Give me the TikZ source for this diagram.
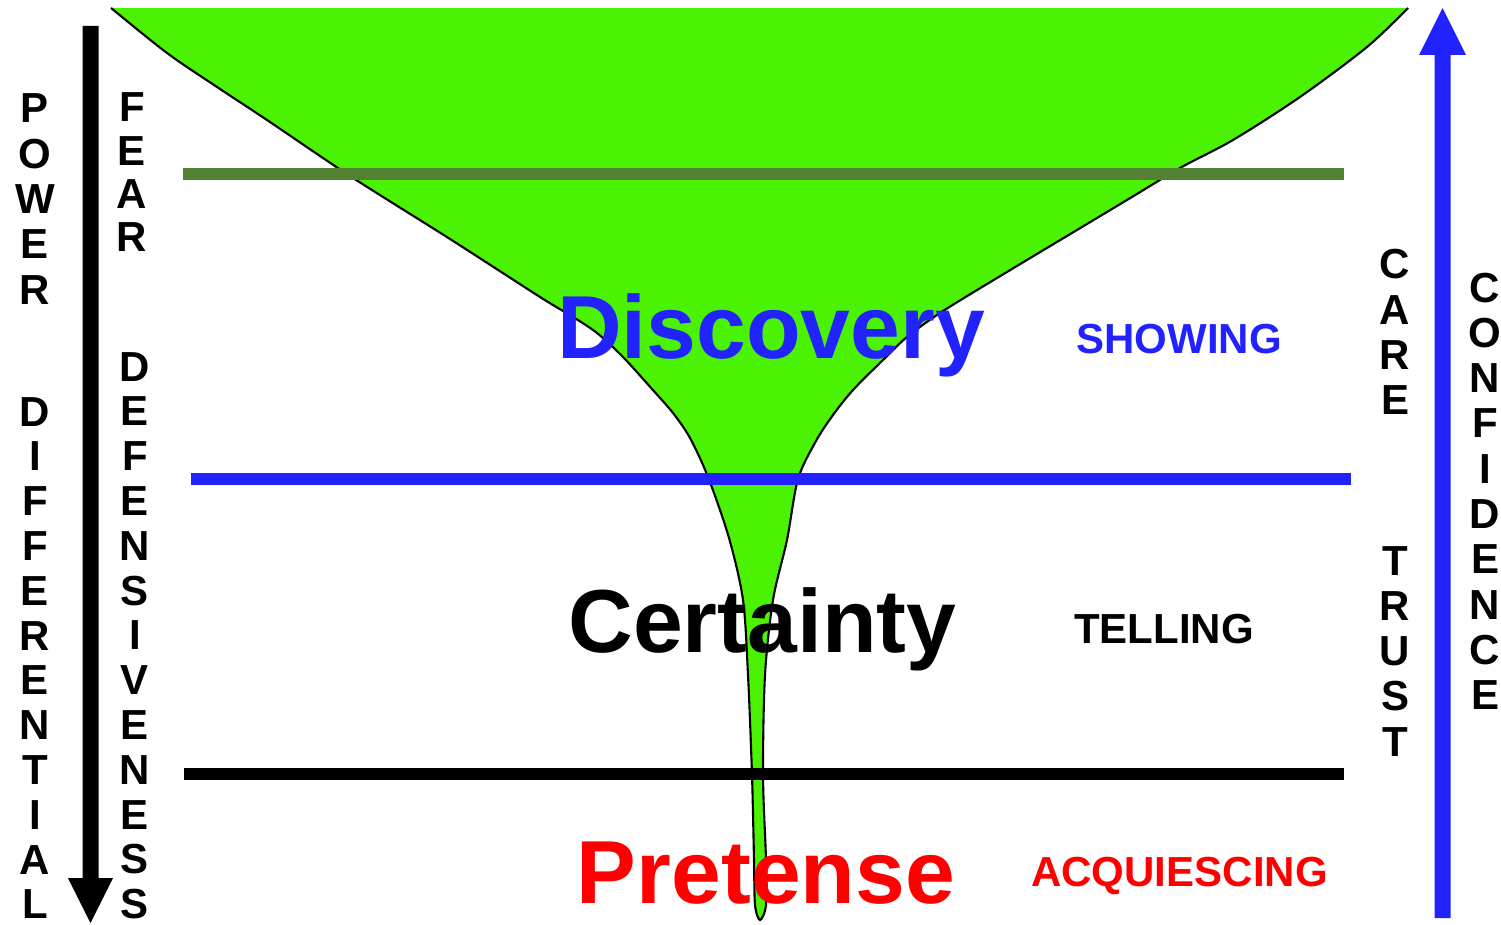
\documentclass[tikz,border=0pt]{standalone}
\usepackage{fontspec}
\setmainfont{Liberation Sans}
\definecolor{fgreen}{RGB}{76,242,4}
\definecolor{lgreen}{RGB}{84,130,53}
\definecolor{myblue}{RGB}{34,34,255}
\definecolor{myred}{RGB}{255,0,0}
\newcommand\vstackword[5]{%
  \foreach \l [count=\i from 0] in {#5} {%
    \node[vletter] (#1\i) at ({#2},{#3+#4*\i}) {\l};}}
\begin{document}
\begin{tikzpicture}[x=1pt,y=-1pt,
  bigword/.style={font=\fontsize{89.5}{100}\selectfont\bfseries, inner sep=0pt, anchor=base},
  sideword/.style={font=\fontsize{42}{48}\selectfont\bfseries, inner sep=0pt, anchor=base},
  vletter/.style={font=\fontsize{42}{48}\selectfont\bfseries, inner sep=0pt, anchor=base},
  band/.style={line width=11.5pt},
  outline/.style={draw=black, line width=2.1pt}]
\useasboundingbox (0,0) rectangle (1501,925);

% funnel
\fill[fgreen] plot[smooth,tension=0.5] coordinates {
  (111,8) (167,53) (217,87) (267,120) (350,176) (450,239) (540,297) (573,317)
  (597,333) (623,357) (652,389) (673,413) (690,438) (708,477) (729,538) (743,600)
  (748,675) (752,775) (754,860) (755,905) (760,920) (766,905) (766,860)
  (763,775) (765,675) (773,600) (787,540) (798,479) (816,441) (833,415) (853,390)
  (883,360) (907,337) (940,313) (997,278) (1127,200) (1180,168) (1233,140)
  (1300,97) (1367,47) (1408,8)} -- cycle;
\draw[outline] plot[smooth,tension=0.5] coordinates {
  (111,8) (167,53) (217,87) (267,120) (350,176) (450,239) (540,297) (573,317)
  (597,333) (623,357) (652,389) (673,413) (690,438) (708,477) (729,538) (743,600)
  (748,675) (752,775) (754,860) (755,905) (760,920) (766,905) (766,860)
  (763,775) (765,675) (773,600) (787,540) (798,479) (816,441) (833,415) (853,390)
  (883,360) (907,337) (940,313) (997,278) (1127,200) (1180,168) (1233,140)
  (1300,97) (1367,47) (1408,8)};

% horizontal bands
\coordinate (g1) at (183,174);
\coordinate (g2) at (1344,174);
\coordinate (b1) at (191,479);
\coordinate (b2) at (1351,479);
\coordinate (k1) at (184,774);
\coordinate (k2) at (1344,774);
\draw[band, lgreen] (g1) -- (g2);
\draw[band, myblue] (b1) -- (b2);
\draw[band, black] (k1) -- (k2);

% arrows
\fill[black] (82.5,26) -- (98.5,26) -- (98.5,878) -- (113,878) -- (90.5,923)
  -- (68,878) -- (82.5,878) -- cycle;
\fill[myblue] (1434.5,918) -- (1450.5,918) -- (1450.5,55) -- (1466,55)
  -- (1442.5,8) -- (1419,55) -- (1434.5,55) -- cycle;

% big words
\node[bigword, text=myblue] (disc) at (771,358) {Discovery};
\node[bigword, text=black] (cert) at (762.5,652) {Certainty};
\node[bigword, text=myred] (pret) at (766,903) {Pretense};

% side words
\node[sideword, text=myblue] (show) at (1179,353) {SHOWING};
\node[sideword, text=black] (tell) at (1164,643) {TELLING};
\node[sideword, text=myred] (acq) at (1179.5,886) {ACQUIESCING};

% vertical words
\vstackword{pow}{35}{123}{45.3}{P,O,W,E,R}
\vstackword{dif}{35}{426}{44.8}{D,I,F,F,E,R,E,N,T,I,A,L}
\vstackword{fea}{132}{122}{43.3}{F,E,A,R}
\vstackword{def}{135}{381}{44.8}{D,E,F,E,N,S,I,V,E,N,E,S,S}
\vstackword{car}{1395}{279}{45.3}{C,A,R,E}
\vstackword{tru}{1395}{575}{45.3}{T,R,U,S,T}
\vstackword{con}{1485}{302}{45.3}{C,O,N,F,I,D,E,N,C,E}
\end{tikzpicture}
\end{document}
